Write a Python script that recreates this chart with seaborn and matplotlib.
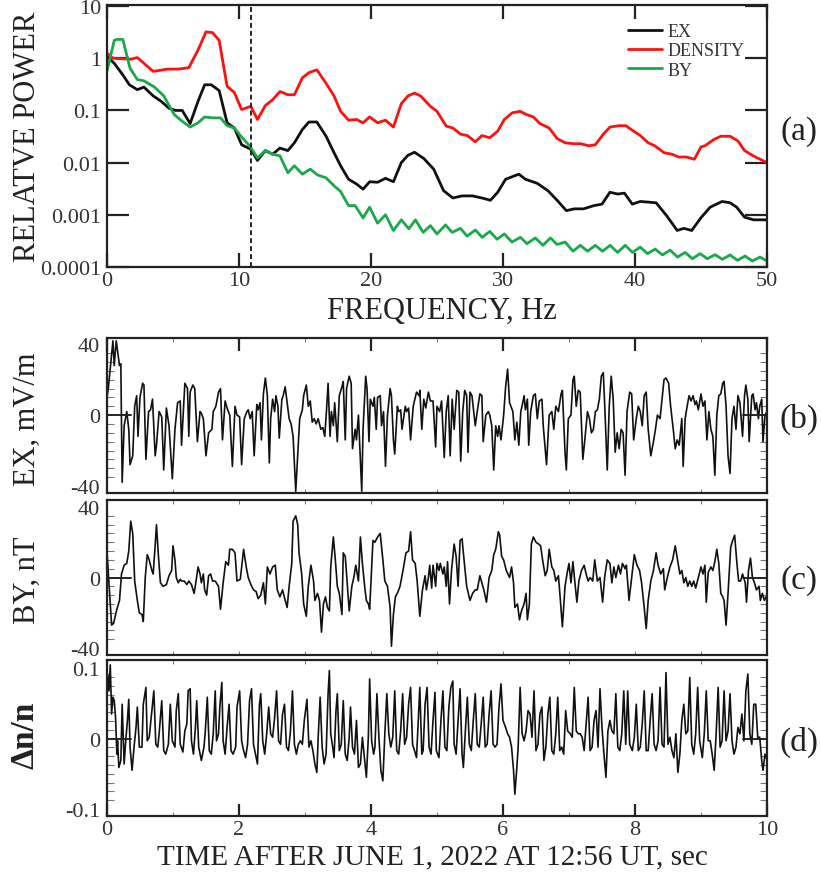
import numpy as np
import seaborn as sns
import matplotlib.pyplot as plt
from matplotlib.ticker import MultipleLocator, NullLocator

# ---------------- data ----------------

# (a) relative power spectra
freq_ex = [0, 0.55, 1.2, 1.7, 2.3, 2.8, 3.5, 4.1, 4.7, 5.2,
           5.7, 6.3, 6.9, 7.4, 7.9, 8.5, 9.1, 9.65, 10.2, 10.9,
           11.4, 12.0, 12.55, 13.1, 13.7, 14.2, 14.8, 15.3, 15.9, 16.6,
           17.2, 17.7, 18.3, 18.9, 19.4, 19.9, 20.5, 21.1, 21.7, 22.3,
           22.8, 23.3, 24.0, 24.75, 25.5, 26.2, 26.9, 27.7, 28.4, 29.05,
           29.6, 30.2, 31.2, 31.7, 32.6, 33.4, 34.1, 34.8, 35.4, 36.1,
           36.9, 37.5, 38.1, 38.7, 39.2, 39.8, 40.4, 41.6, 42.4, 43.2,
           43.7, 44.3, 45.0, 45.7, 46.6, 47.2, 47.7, 48.3, 49.0, 50.0]
power_ex = [1.08, 0.8, 0.48, 0.31, 0.25, 0.28, 0.19, 0.15, 0.11, 0.1,
            0.1, 0.056, 0.15, 0.31, 0.31, 0.24, 0.058, 0.046, 0.022, 0.018,
            0.011, 0.017, 0.0145, 0.019, 0.017, 0.024, 0.043, 0.06, 0.06, 0.032,
            0.0155, 0.0087, 0.0048, 0.0039, 0.0031, 0.0043, 0.0042, 0.005, 0.0043, 0.01,
            0.0138, 0.0158, 0.012, 0.0075, 0.0029, 0.0021, 0.0023, 0.0023, 0.0021, 0.0019,
            0.0027, 0.0048, 0.006, 0.0048, 0.004, 0.0029, 0.0019, 0.0012, 0.0013, 0.0013,
            0.0015, 0.0016, 0.0027, 0.0025, 0.0026, 0.0016, 0.0018, 0.0017, 0.00096, 0.0005,
            0.00055, 0.0005, 0.00088, 0.0014, 0.0018, 0.0017, 0.0014, 0.0009, 0.0008, 0.0008]

freq_density = [0, 0.45, 1.8, 2.3, 3.5, 4.6, 5.4, 6.2, 6.9, 7.5,
                8.0, 8.5, 9.1, 9.65, 10.2, 10.9, 11.4, 12.0, 12.55, 13.1,
                13.7, 14.2, 14.8, 15.3, 15.9, 16.6, 17.2, 17.7, 18.3, 18.9,
                19.4, 19.9, 20.5, 21.1, 21.7, 22.3, 22.8, 23.3, 23.75, 24.5,
                25.0, 25.7, 26.2, 26.8, 27.3, 27.9, 28.4, 29.0, 29.6, 30.1,
                30.7, 31.3, 31.8, 32.3, 32.8, 33.5, 34.1, 34.7, 35.4, 35.9,
                36.5, 37.0, 37.6, 38.1, 38.8, 39.3, 39.9, 40.4, 41.0, 41.5,
                42.2, 42.8, 43.3, 43.9, 44.5, 45.0, 45.3, 46.0, 46.5, 47.2,
                47.8, 48.3, 49.0, 50.0]
power_density = [1.25, 1.0, 0.96, 1.03, 0.56, 0.62, 0.62, 0.66, 1.44, 3.2,
                 3.1, 2.2, 0.29, 0.22, 0.104, 0.12, 0.067, 0.124, 0.16, 0.23,
                 0.2, 0.2, 0.42, 0.53, 0.6, 0.33, 0.19, 0.096, 0.065, 0.067,
                 0.058, 0.075, 0.058, 0.065, 0.048, 0.135, 0.19, 0.215, 0.19, 0.12,
                 0.096, 0.05, 0.046, 0.035, 0.033, 0.025, 0.033, 0.03, 0.04, 0.067,
                 0.09, 0.096, 0.083, 0.075, 0.056, 0.046, 0.029, 0.024, 0.023, 0.023,
                 0.021, 0.022, 0.035, 0.048, 0.051, 0.051, 0.04, 0.033, 0.024, 0.021,
                 0.0155, 0.0145, 0.0128, 0.0128, 0.0116, 0.020, 0.021, 0.028, 0.032, 0.032,
                 0.026, 0.017, 0.0133, 0.01]

freq_by = [0, 0.55, 0.75, 1.2, 1.75, 2.3, 2.8, 3.6, 4.3, 5.1,
           5.7, 6.3, 6.9, 7.4, 8.0, 8.6, 9.1, 9.65, 10.15, 10.8,
           11.4, 12.0, 12.55, 13.1, 13.7, 14.2, 14.8, 15.4, 15.95, 16.6,
           17.2, 17.7, 18.3, 18.8, 19.4, 19.9, 20.5, 21.1, 21.7, 22.3,
           22.87, 23.37, 23.95, 24.5, 25.0, 25.65, 26.15, 26.78, 27.28, 27.91,
           28.42, 29.0, 29.55, 30.1, 30.68, 31.32, 31.82, 32.45, 33.03, 33.6,
           34.09, 34.72, 35.3, 35.86, 36.41, 36.99, 37.54, 38.12, 38.68, 39.26,
           39.81, 40.4, 40.95, 41.53, 42.08, 42.66, 43.22, 43.8, 44.35, 44.93,
           45.48, 46.07, 46.62, 47.2, 47.76, 48.34, 48.89, 49.47, 50.0]
power_by = [0.56, 2.2, 2.3, 2.3, 0.64, 0.39, 0.37, 0.28, 0.19, 0.083,
            0.062, 0.048, 0.058, 0.075, 0.072, 0.072, 0.051, 0.046, 0.032, 0.021,
            0.0124, 0.017, 0.0145, 0.0135, 0.0064, 0.0087, 0.006, 0.0075, 0.0058, 0.0051,
            0.0036, 0.0028, 0.0015, 0.0015, 0.00087, 0.0014, 0.00069, 0.001, 0.0005, 0.0008,
            5.4e-4, 8.0e-4, 4.6e-4, 6.2e-4, 4.3e-4, 6.4e-4, 4.6e-4, 5.5e-4, 3.9e-4, 5.1e-4,
            3.7e-4, 4.8e-4, 3.4e-4, 4.3e-4, 3.0e-4, 3.7e-4, 2.8e-4, 3.6e-4, 2.6e-4, 3.6e-4,
            2.7e-4, 3.0e-4, 2.0e-4, 2.6e-4, 2.0e-4, 2.6e-4, 2.0e-4, 2.6e-4, 1.9e-4, 2.6e-4,
            1.9e-4, 2.4e-4, 1.8e-4, 2.2e-4, 1.7e-4, 2.1e-4, 1.55e-4, 1.9e-4, 1.44e-4, 1.8e-4,
            1.44e-4, 1.72e-4, 1.4e-4, 1.7e-4, 1.34e-4, 1.62e-4, 1.3e-4, 1.55e-4, 1.3e-4]
f_cut = 10.9

# (b) EX, mV/m
t_ex = [0.00, 0.02, 0.09, 0.11, 0.14, 0.19, 0.21, 0.23, 0.26, 0.30,
        0.33, 0.35, 0.39, 0.42, 0.45, 0.47, 0.50, 0.54, 0.56, 0.59,
        0.63, 0.66, 0.69, 0.73, 0.75, 0.79, 0.83, 0.86, 0.90, 0.94,
        0.99, 1.03, 1.07, 1.11, 1.13, 1.18, 1.22, 1.24, 1.26, 1.30,
        1.33, 1.37, 1.41, 1.43, 1.46, 1.50, 1.54, 1.59, 1.61, 1.65,
        1.69, 1.72, 1.75, 1.79, 1.82, 1.86, 1.90, 1.94, 1.97, 2.01,
        2.04, 2.08, 2.12, 2.14, 2.17, 2.20, 2.23, 2.27, 2.29, 2.32,
        2.34, 2.37, 2.40, 2.43, 2.46, 2.48, 2.51, 2.54, 2.56, 2.59,
        2.61, 2.65, 2.67, 2.70, 2.73, 2.76, 2.79, 2.82, 2.86, 2.89,
        2.92, 2.96, 2.98, 3.02, 3.05, 3.08, 3.11, 3.14, 3.17, 3.20,
        3.24, 3.27, 3.30, 3.33, 3.35, 3.38, 3.40, 3.43, 3.45, 3.49,
        3.52, 3.56, 3.58, 3.61, 3.63, 3.67, 3.70, 3.72, 3.76, 3.78,
        3.81, 3.83, 3.86, 3.88, 3.92, 3.94, 3.97, 3.99, 4.03, 4.05,
        4.08, 4.10, 4.14, 4.16, 4.19, 4.22, 4.25, 4.29, 4.31, 4.34,
        4.36, 4.40, 4.42, 4.45, 4.47, 4.52, 4.54, 4.57, 4.60, 4.64,
        4.69, 4.73,
        4.74, 4.77, 4.80, 4.83, 4.87, 4.90, 4.94, 4.98, 5.00, 5.04,
        5.07, 5.11, 5.14, 5.17, 5.20, 5.23, 5.26, 5.30, 5.33, 5.36,
        5.39, 5.42, 5.45, 5.47, 5.50, 5.53, 5.58, 5.61, 5.65, 5.68,
        5.70, 5.74, 5.78, 5.80, 5.83, 5.86, 5.89, 5.92, 5.94, 5.97,
        6.01, 6.04, 6.07, 6.10, 6.12, 6.15, 6.18, 6.21, 6.24, 6.27,
        6.30, 6.32, 6.34, 6.37, 6.39, 6.42, 6.46, 6.49, 6.52, 6.55,
        6.59, 6.61, 6.66, 6.70, 6.74, 6.77, 6.80, 6.84, 6.88, 6.90,
        6.94, 6.96, 6.99, 7.03, 7.06, 7.08, 7.11, 7.14, 7.17, 7.21,
        7.24, 7.28, 7.31, 7.34, 7.37, 7.40, 7.43, 7.46, 7.49, 7.52,
        7.54, 7.58, 7.61, 7.64, 7.67, 7.70, 7.73, 7.76, 7.79, 7.82,
        7.85, 7.88, 7.92, 7.95, 7.98, 8.02, 8.05, 8.08, 8.11, 8.14,
        8.17, 8.20, 8.24, 8.28, 8.31, 8.34, 8.38, 8.41, 8.44, 8.47,
        8.51, 8.54, 8.58, 8.61, 8.64, 8.67, 8.71, 8.73, 8.76, 8.79,
        8.82, 8.85, 8.88, 8.91, 8.93, 8.96, 9.00, 9.03, 9.06, 9.09,
        9.12, 9.15, 9.18, 9.21, 9.24, 9.27, 9.30, 9.33, 9.35, 9.38,
        9.41, 9.44, 9.47, 9.50, 9.53, 9.56, 9.59, 9.63, 9.66, 9.68,
        9.71, 9.73, 9.77, 9.79, 9.82, 9.84, 9.87, 9.89, 9.92, 9.94,
        9.97, 10.0]
ex = [10, 15, 42, 28, 42, 28, 29, -38, -6, 2,
      -8, -28, -23, 5, 11, -12, 10, 18, 17, -25,
      2, 3, 9, -23, -17, 2, -1, -31, 4, -6,
      -36, -8, 7, 8, -17, 18, 15, -12, 13, 17,
      15, -15, 2, 1, -2, -23, -10, -8, 2, 5,
      13, 15, -14, 8, 4, 0, -29, 5, 0, -1,
      -28, -2, 2, 3, -2, 2, -23, 6, 3, 7,
      -14, 12, 21, 11, -27, -2, 9, 2, 11, 5,
      -13, 9, 11, 16, 7, -2, -5, -12, -43, -23,
      -2, 3, 11, 17, 5, 8, -4, -2, -5, -2,
      -8, -7, -12, 5, 18, -12, 2, -6, 7, -15,
      11, 16, 19, -14, 15, 22, 18, -19, -8, -14,
      0, -17, -43, -8, 22, 15, -15, 9, 5, 10,
      -8, 10, 11, -6, 2, -29, 0, 15, 11, -14,
      -22, 5, 2, 3, -8, 5, 2, 4, -14, 5,
      13, 11,
      14, -8, 9, 4, 13, 8, 8, -18, 5, 2,
      8, -24, 2, 11, -23, 9, -8, 14, 13, -26,
      2, 14, 11, -21, 13, 11, -6, 2, 12, 11,
      -15, 0, 2, 0, -6, -31, -6, -12, -6, -14,
      0, 16, 26, 7, 5, 2, -14, -4, -17, 2,
      7, 11, 3, 9, -17, 2, 11, 12, -2, 8,
      9, -6, -28, 0, 2, -8, 5, 2, 12, 14,
      -21, -31, -2, 0, 20, 22, 5, 14, 13, -25,
      -14, 2, -2, -10, -8, 2, 3, 9, 22, 24,
      7, -31, 5, 22, 9, -21, -10, -19, -8, -10,
      -34, 2, 13, 12, -14, -2, 5, 2, -6, 11,
      13, -8, -23, -15, -8, 0, -2, 9, 20, 21,
      18, 5, -8, -19, -14, -17, -2, -29, -2, 5,
      11, 8, 11, 6, 8, 3, 12, 5, 8, -14,
      2, -8, -12, -34, 0, 11, 12, 18, 19, 5,
      -23, -33, -2, 5, -8, 11, 7, -12, 11, 17,
      9, -15, 11, 12, 3, 7, -2, 5, 9, -15,
      0, 2]

# (c) BY, nT
t_by = [0.00, 0.07, 0.10, 0.15, 0.19, 0.22, 0.26, 0.30, 0.33, 0.36,
        0.39, 0.42, 0.46, 0.49, 0.53, 0.55, 0.58, 0.61, 0.64, 0.68,
        0.70, 0.73, 0.75, 0.78, 0.81, 0.85, 0.90, 0.94, 0.98, 1.00,
        1.03, 1.05, 1.08, 1.11, 1.13, 1.17, 1.21, 1.24, 1.28, 1.32,
        1.35, 1.38, 1.41, 1.43, 1.46, 1.48, 1.51, 1.54, 1.57, 1.60,
        1.64, 1.69, 1.72, 1.76, 1.80, 1.84, 1.86, 1.90, 1.94, 1.97,
        2.02, 2.07, 2.11, 2.14, 2.18, 2.22, 2.26, 2.29, 2.33, 2.37,
        2.40, 2.43, 2.47, 2.51, 2.55, 2.58, 2.62, 2.66, 2.70, 2.73,
        2.76, 2.80, 2.82, 2.86, 2.89, 2.91, 2.95, 2.98, 3.02, 3.05,
        3.09, 3.13, 3.15, 3.19, 3.22, 3.25, 3.28, 3.31, 3.34, 3.37,
        3.39, 3.43, 3.46, 3.49, 3.52, 3.56, 3.58, 3.61, 3.63, 3.67,
        3.71, 3.74, 3.77, 3.81, 3.84, 3.87, 3.91, 3.93, 3.96, 3.98,
        4.03, 4.06, 4.10, 4.14, 4.18, 4.21, 4.25, 4.29, 4.31, 4.34,
        4.37, 4.41, 4.44, 4.49, 4.53, 4.57, 4.60, 4.63, 4.67, 4.70,
        4.73,
        4.74, 4.78, 4.82, 4.84, 4.87, 4.89, 4.92, 4.94, 4.98, 5.00,
        5.03, 5.05, 5.09, 5.11, 5.14, 5.16, 5.19, 5.22, 5.26, 5.29,
        5.32, 5.35, 5.38, 5.41, 5.45, 5.50, 5.54, 5.58, 5.61, 5.65,
        5.68, 5.71, 5.75, 5.79, 5.83, 5.86, 5.89, 5.93, 5.95, 5.98,
        6.01, 6.05, 6.10, 6.13, 6.16, 6.18, 6.22, 6.25, 6.28, 6.32,
        6.35, 6.37, 6.40, 6.43, 6.46, 6.50, 6.54, 6.57, 6.60, 6.64,
        6.67, 6.70, 6.74, 6.77, 6.80, 6.84, 6.87, 6.90, 6.94, 6.97,
        7.00, 7.03, 7.06, 7.09, 7.12, 7.15, 7.19, 7.23, 7.26, 7.29,
        7.32, 7.36, 7.39, 7.43, 7.47, 7.51, 7.54, 7.58, 7.62, 7.65,
        7.68, 7.71, 7.75, 7.78, 7.81, 7.85, 7.87, 7.91, 7.95, 7.99,
        8.03, 8.07, 8.10, 8.14, 8.17, 8.20, 8.24, 8.28, 8.32, 8.35,
        8.39, 8.43, 8.45, 8.49, 8.53, 8.57, 8.61, 8.64, 8.68, 8.71,
        8.74, 8.77, 8.80, 8.83, 8.86, 8.89, 8.92, 8.96, 9.00, 9.03,
        9.06, 9.08, 9.11, 9.15, 9.18, 9.21, 9.24, 9.27, 9.30, 9.33,
        9.35, 9.38, 9.41, 9.45, 9.48, 9.51, 9.54, 9.57, 9.60, 9.63,
        9.67, 9.69, 9.72, 9.75, 9.78, 9.81, 9.84, 9.88, 9.90, 9.93,
        9.96, 10.0]
by = [15, -27, -26, -18, -13, 2, 7, 8, 15, 32,
      25, -2, -13, -20, -21, -25, 0, 13, 10, 4,
      2, 18, 30, 12, -3, -5, -4, 1, 4, 18,
      10, 0, -3, -1, -2, -2, -4, -2, -4, -9,
      -2, 6, 2, -3, 2, -7, -10, 1, 2, -2,
      -2, -5, -18, -3, 9, 7, 16, 16, 14, -2,
      -1, 16, 6, 0, -4, -7, -8, -12, -10, -3,
      -15, 6, 2, 6, 7, -7, -11, -7, -13, -17,
      -5, 8, 32, 35, 30, 14, 2, -15, -22, -5,
      7, -2, -13, -9, -13, -31, -15, -11, -17, -19,
      6, 23, 10, -5, -9, -21, 14, 12, 2, -19,
      -5, 0, 7, -2, 23, 8, -7, -13, -15, -18,
      21, 20, 23, 25, 10, -2, -5, -17, -39, -21,
      -11, -8, -5, 5, 14, 15, 26, 10, 8, -2,
      -17,
      -22, -7, 1, -7, 0, 7, -6, 7, -5, 8,
      4, 8, 2, 6, -5, 9, -15, 4, 19, 12,
      -5, 21, 22, 10, -5, -13, -9, -7, -7, 1,
      -3, -7, -14, 0, 4, 13, 16, 26, 24, 12,
      10, 4, 0, 6, -3, -17, -15, -24, -19, -15,
      -9, -24, -15, 19, 23, 20, 19, 18, 10, 1,
      4, 16, 6, 4, -2, 1, -13, -28, -5, 2,
      8, -3, 9, -3, -14, -2, 4, 7, 2, -2,
      0, -2, 10, -2, 0, -14, 0, 10, 8, -3,
      6, 0, 7, 2, 8, 5, 7, -13, 0, 13,
      7, 4, -3, -17, -29, -13, -2, 4, 14, 7,
      2, 5, -7, 0, 6, 10, 18, 11, 2, 4,
      -3, 0, -5, -2, -5, -2, -6, 0, 6, 2,
      7, -14, 3, 6, 4, 9, 16, 8, -9, -11,
      -13, -27, -9, 17, 21, 24, 10, -2, -2, 2,
      -3, -14, 4, 11, 0, -3, -7, -5, -13, -9,
      -13, -10]

# (d) density fluctuation dn/n
t_dn = [0.00, 0.01, 0.03, 0.05, 0.07, 0.09, 0.11, 0.13, 0.15, 0.16,
        0.18, 0.21, 0.23, 0.26, 0.28, 0.31, 0.33, 0.35, 0.38, 0.41,
        0.44, 0.46, 0.49, 0.53, 0.55, 0.59, 0.61, 0.64, 0.68, 0.71,
        0.74, 0.77, 0.79, 0.83, 0.86, 0.89, 0.93, 0.96, 0.99, 1.03,
        1.05, 1.08, 1.11, 1.15, 1.18, 1.21, 1.23, 1.26, 1.28, 1.31,
        1.34, 1.36, 1.39, 1.43, 1.47, 1.49, 1.52, 1.55, 1.58, 1.61,
        1.64, 1.66, 1.69, 1.71, 1.74, 1.76, 1.79, 1.82, 1.85, 1.88,
        1.91, 1.95, 1.97, 2.01, 2.04, 2.07, 2.10, 2.13, 2.16, 2.19,
        2.22, 2.25, 2.28, 2.31, 2.33, 2.36, 2.39, 2.42, 2.45, 2.48,
        2.51, 2.54, 2.57, 2.60, 2.63, 2.66, 2.69, 2.72, 2.75, 2.78,
        2.81, 2.84, 2.87, 2.90, 2.93, 2.96, 2.99, 3.03, 3.06, 3.09,
        3.12, 3.15, 3.18, 3.20, 3.23, 3.26, 3.29, 3.32, 3.35, 3.37,
        3.39, 3.42, 3.44, 3.47, 3.49, 3.52, 3.55, 3.58, 3.61, 3.64,
        3.67, 3.69, 3.72, 3.75, 3.78, 3.81, 3.84, 3.87, 3.90, 3.93,
        3.96, 3.98, 4.01, 4.04, 4.06, 4.09, 4.12, 4.15, 4.18, 4.21,
        4.24, 4.27, 4.30, 4.33, 4.36, 4.39, 4.42, 4.45, 4.48, 4.51,
        4.54, 4.57, 4.60, 4.63, 4.66, 4.69, 4.72,
        4.74, 4.77, 4.79, 4.82, 4.85, 4.88, 4.91, 4.94, 4.97, 4.99,
        5.03, 5.06, 5.09, 5.12, 5.15, 5.18, 5.21, 5.24, 5.26, 5.29,
        5.32, 5.35, 5.38, 5.40, 5.43, 5.46, 5.49, 5.52, 5.55, 5.58,
        5.61, 5.64, 5.67, 5.70, 5.73, 5.76, 5.79, 5.82, 5.85, 5.88,
        5.91, 5.94, 5.97, 6.00, 6.04, 6.07, 6.10, 6.13, 6.16, 6.18,
        6.21, 6.23, 6.26, 6.29, 6.32, 6.35, 6.38, 6.41, 6.44, 6.47,
        6.50, 6.53, 6.56, 6.59, 6.62, 6.65, 6.68, 6.71, 6.74, 6.77,
        6.80, 6.83, 6.86, 6.89, 6.92, 6.95, 6.98, 7.02, 7.05, 7.08,
        7.11, 7.14, 7.17, 7.20, 7.23, 7.26, 7.29, 7.32, 7.35, 7.38,
        7.41, 7.44, 7.47, 7.50, 7.53, 7.56, 7.59, 7.62, 7.65, 7.68,
        7.71, 7.74, 7.77, 7.80, 7.83, 7.86, 7.89, 7.92, 7.96, 7.99,
        8.02, 8.05, 8.08, 8.11, 8.14, 8.17, 8.20, 8.23, 8.26, 8.29,
        8.32, 8.35, 8.38, 8.41, 8.44, 8.47, 8.50, 8.53, 8.56, 8.59,
        8.62, 8.65, 8.68, 8.71, 8.74, 8.77, 8.80, 8.83, 8.86, 8.89,
        8.92, 8.95, 8.98, 9.02, 9.05, 9.08, 9.11, 9.14, 9.17, 9.20,
        9.23, 9.26, 9.29, 9.32, 9.35, 9.38, 9.41, 9.44, 9.47, 9.50,
        9.53, 9.56, 9.59, 9.62, 9.65, 9.68, 9.71, 9.74, 9.77, 9.80,
        9.83, 9.86, 9.89, 9.92, 9.94, 9.97, 10.0]
dn = [0.05, 0.092, 0.068, 0.105, 0.035, 0.059, 0.054, 0.030, -0.022, -0.003,
      -0.041, -0.031, 0.049, -0.036, -0.008, 0.026, 0.056, -0.012, -0.045, -0.012,
      0.016, 0.045, -0.012, -0.012, 0.049, 0.073, -0.003, 0.002, 0.040, 0.068,
      -0.008, -0.012, 0.007, 0.054, -0.017, -0.022, -0.008, 0.049, -0.003, -0.012,
      0.040, 0.064, -0.008, -0.019, 0.011, 0.021, 0.068, 0.071, -0.003, -0.022,
      0.016, 0.054, -0.012, -0.031, -0.012, 0.011, 0.059, -0.017, -0.022, 0.007,
      0.068, -0.003, 0.007, 0.045, 0.080, -0.003, -0.022, 0.016, 0.049, -0.017,
      -0.022, -0.012, 0.045, 0.068, -0.003, -0.017, -0.027, -0.008, 0.054, 0.071,
      -0.008, -0.022, -0.036, 0.049, 0.064, -0.003, -0.022, 0.007, 0.045, 0.007,
      0.002, 0.030, 0.068, -0.003, -0.008, 0.035, 0.049, -0.012, -0.017, 0.011,
      0.068, -0.008, -0.022, -0.008, -0.003, -0.008, 0.026, 0.056, -0.012, -0.003,
      -0.017, -0.036, -0.048, 0.002, 0.059, -0.012, -0.036, -0.022, 0.064, 0.097,
      0.007, -0.012, -0.027, 0.040, 0.064, -0.017, -0.008, 0.054, -0.022, -0.031,
      0.002, 0.045, -0.012, -0.022, 0.026, -0.041, -0.036, 0.002, -0.027, -0.055,
      0.002, 0.085, -0.003, -0.022, -0.012, 0.064, 0.002, -0.045, -0.060, 0.007,
      0.064, 0.007, -0.012, 0.002, 0.068, -0.017, -0.022, 0.011, 0.064, -0.008,
      0.002, 0.049, 0.073, -0.008, -0.017, -0.027, 0.035,
      0.073, -0.022, -0.017, 0.049, 0.073, -0.012, -0.022, 0.026, 0.066, -0.017,
      -0.027, 0.026, 0.068, -0.012, -0.017, 0.045, 0.073, 0.082, -0.008, -0.022,
      0.026, 0.071, -0.022, -0.041, 0.011, 0.059, -0.008, -0.017, 0.026, 0.064,
      -0.008, -0.012, 0.021, 0.059, -0.012, -0.008, 0.035, 0.068, -0.008, -0.012,
      -0.008, 0.045, 0.078, 0.026, 0.016, 0.007, 0.002, -0.012, -0.045, -0.079,
      -0.041, -0.012, 0.073, 0.007, -0.003, 0.011, 0.040, 0.035, 0.002, 0.068,
      -0.017, -0.008, 0.035, 0.045, -0.031, -0.012, 0.035, 0.059, -0.017, -0.022,
      0.007, 0.059, -0.017, -0.012, -0.022, 0.040, 0.011, 0.007, 0.002, 0.073,
      0.011, 0.007, 0.007, 0.002, -0.017, 0.021, 0.059, -0.017, -0.012, 0.026,
      0.040, -0.012, 0.071, 0.016, -0.022, -0.055, 0.011, 0.026, 0.011, 0.007,
      0.064, -0.012, -0.017, 0.007, 0.068, -0.008, 0.068, -0.008, -0.017, 0.002,
      0.049, -0.017, -0.012, 0.021, 0.068, -0.017, -0.017, 0.026, 0.064, -0.008,
      -0.017, -0.003, 0.073, -0.008, -0.012, 0.094, -0.008, 0.002, -0.017, -0.027,
      0.007, -0.048, -0.022, 0.026, 0.049, 0.007, 0.011, 0.087, -0.008, -0.022,
      0.007, 0.073, -0.003, -0.027, 0.007, 0.068, -0.003, -0.003, -0.022, -0.045,
      0.007, 0.073, -0.012, -0.003, 0.068, -0.003, 0.011, 0.064, -0.003, -0.022,
      -0.012, 0.016, 0.007, 0.035, -0.003, 0.068, 0.092, 0.007, -0.008, 0.049,
      0.049, 0.002, 0.002, -0.031, -0.045, -0.022, -0.03]

# ---------------- style ----------------
sns.set_style("white")
plt.rcParams['font.family'] = ['Liberation Serif', 'DejaVu Serif']
plt.rcParams['axes.linewidth'] = 1.6
plt.rcParams['axes.edgecolor'] = '#222222'

ink = '#222222'
tick_txt = '#333333'

fig = plt.figure(figsize=(8.21, 8.78), dpi=100)
ax_a = fig.add_axes([0.1303, 0.6948, 0.8039, 0.2984])
ax_b = fig.add_axes([0.1303, 0.4374, 0.8039, 0.1765])
ax_c = fig.add_axes([0.1303, 0.2528, 0.8039, 0.1766])
ax_d = fig.add_axes([0.1303, 0.0695, 0.8039, 0.1777])

# ---------------- (a) spectra ----------------
sns.lineplot(x=freq_ex, y=power_ex, ax=ax_a, color='#111111', lw=2.0,
             label='EX', estimator=None, sort=False)
sns.lineplot(x=freq_density, y=power_density, ax=ax_a, color='#ff1010', lw=2.0,
             label='DENSITY', estimator=None, sort=False)
sns.lineplot(x=freq_by, y=power_by, ax=ax_a, color='#19a84a', lw=2.0,
             label='BY', estimator=None, sort=False)
ax_a.axvline(f_cut, color=ink, lw=1.4, ls=(0, (2.5, 1.6)))

ax_a.set_yscale('log')
ax_a.set_xlim(0, 50)
ax_a.set_ylim(1e-4, 10.5)
ax_a.set_yticks([1e-4, 1e-3, 1e-2, 1e-1, 1, 10])
ax_a.set_yticklabels(['0.0001', '0.001', '0.01', '0.1', '1', '10'])
ax_a.yaxis.set_minor_locator(NullLocator())
ax_a.set_xticks([0, 10, 20, 30, 40, 50])
ax_a.set_xticklabels(['0', '10', '20', '30', '40', '50'])
ax_a.tick_params(axis='y', which='major', direction='in', length=16, width=1.6,
                 left=True, right=True, colors=ink, labelcolor=tick_txt,
                 labelsize=16, pad=4)
ax_a.tick_params(axis='x', which='major', direction='in', length=10, width=1.6,
                 top=True, bottom=True, colors=ink, labelcolor=tick_txt,
                 labelsize=16, pad=3)
ax_a.set_xlabel('')
ax_a.set_ylabel('')
leg = ax_a.legend(loc='upper left', bbox_to_anchor=(0.789, 0.93), frameon=False,
                  fontsize=13, handlelength=1.9, handletextpad=0.3,
                  labelspacing=0.12, borderaxespad=0, borderpad=0)
for txt in leg.get_texts():
    txt.set_color(tick_txt)

# ---------------- (b)-(d) time series ----------------
series = [
    (ax_b, t_ex, ex, (-44, 43.6), [-40, 0, 40], ['-40', '0', '40'], 5),
    (ax_c, t_by, by, (-44, 44), [-40, 0, 40], ['-40', '0', '40'], 5),
    (ax_d, t_dn, dn, (-0.11, 0.112), [-0.1, 0, 0.1], ['-0.1', '0', '0.1'], 0.0125),
]
for ax, tt, yy, ylim, yt, ytl, ystep in series:
    sns.lineplot(x=tt, y=yy, ax=ax, color='#111111', lw=1.2,
                 estimator=None, sort=False)
    ax.set_xlim(0, 10)
    ax.set_ylim(*ylim)
    ax.set_yticks(yt)
    ax.set_yticklabels(ytl)
    ax.yaxis.set_minor_locator(MultipleLocator(ystep))
    ax.xaxis.set_minor_locator(MultipleLocator(1))
    ax.set_xticks([0, 2, 4, 6, 8, 10])
    ax.tick_params(axis='y', which='major', length=0, labelsize=16,
                   labelcolor=tick_txt, pad=5)
    ax.tick_params(axis='y', which='minor', direction='in', length=5, width=0.8,
                   left=True, right=True, color='#777777')
    ax.tick_params(axis='x', which='minor', direction='in', length=3, width=0.7,
                   top=True, bottom=True, color='#777777')
    ax.axhline(0, xmin=0, xmax=0.036, color=ink, lw=1.4)
    ax.axhline(0, xmin=0.964, xmax=1, color=ink, lw=1.4)
    ax.set_xlabel('')
    ax.set_ylabel('')

ax_b.tick_params(axis='x', which='major', direction='in', length=9, width=1.6,
                 top=True, bottom=False, labelbottom=False, color=ink)
ax_c.tick_params(axis='x', which='major', direction='in', length=3, width=0.7,
                 top=True, bottom=True, labelbottom=False, color='#777777')
ax_d.tick_params(axis='x', which='major', direction='in', length=9, width=1.6,
                 top=False, bottom=True, labelbottom=True, color=ink,
                 labelcolor=tick_txt, labelsize=16, pad=3)
ax_d.set_xticklabels(['0', '2', '4', '6', '8', '10'])

# ---------------- labels ----------------
fig.text(0.033, 0.844, 'RELATVE POWER', rotation=90, ha='center', va='center',
         fontsize=22, color=ink)
fig.text(0.538, 0.645, 'FREQUENCY, Hz', ha='center', va='center',
         fontsize=22, color=ink)
fig.text(0.033, 0.522, 'EX, mV/m', rotation=90, ha='center', va='center',
         fontsize=22, color=ink)
fig.text(0.033, 0.339, 'BY, nT', rotation=90, ha='center', va='center',
         fontsize=22, color=ink)
fig.text(0.030, 0.163, 'Δn/n', rotation=90, ha='center', va='center',
         fontsize=24, fontweight='bold', color=ink)
fig.text(0.527, 0.023, 'TIME AFTER JUNE 1, 2022 AT 12:56 UT, sec',
         ha='center', va='center', fontsize=21, color=ink)

for ypos, tag in [(0.850, '(a)'), (0.522, '(b)'), (0.339, '(c)'), (0.154, '(d)')]:
    fig.text(0.973, ypos, tag, ha='center', va='center', fontsize=24, color=ink)

fig.savefig('out.png', dpi=100)
